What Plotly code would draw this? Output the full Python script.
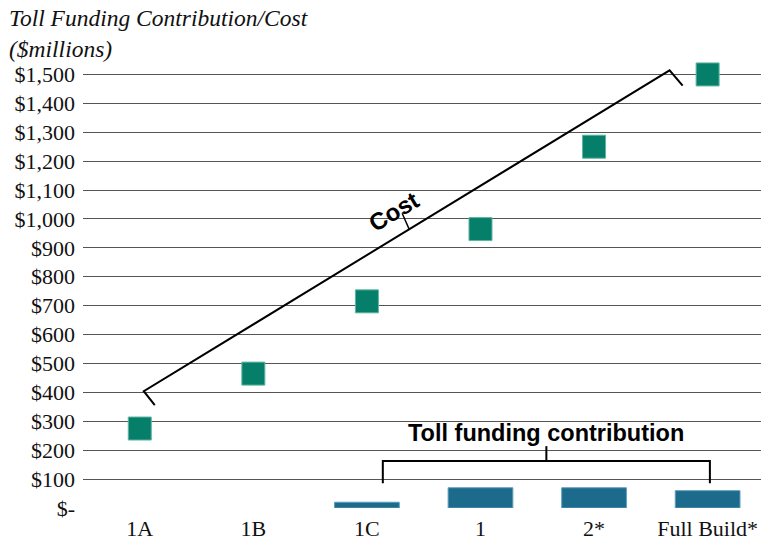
import plotly.graph_objects as go

categories = ["1A", "1B", "1C", "1", "2*", "Full Build*"]
cost = [275, 465, 715, 965, 1250, 1500]
toll_contribution = [None, None, 20, 70, 70, 60]
y_tick_values = list(range(0, 1600, 100))
y_tick_labels = ["$-"] + [f"${v:,}" for v in range(100, 1600, 100)]

x_idx = list(range(len(categories)))

SERIF = "Liberation Serif, Times New Roman, serif"
SANS = "Liberation Sans, Arial, sans-serif"

fig = go.Figure()
fig.add_trace(go.Bar(
    x=x_idx, y=toll_contribution, width=0.57,
    marker=dict(color="#1c6a8c", line=dict(color="#5f9fba", width=1)),
    name="Toll funding contribution",
))
fig.add_trace(go.Scatter(
    x=x_idx, y=cost, mode="markers",
    marker=dict(symbol="square", size=23, color="#067f6a",
                line=dict(color="#5fb5a2", width=1)),
    cliponaxis=False, name="Cost",
))

# Cost bracket
fig.add_shape(type="path",
              path="M 0.132 356 L 0.035 404 L 4.665 1514 L 4.78 1461",
              line=dict(color="black", width=2), xref="x", yref="y")
fig.add_shape(type="line", x0=2.31, y0=1020, x1=2.375, y1=962,
              line=dict(color="black", width=1.5))
fig.add_annotation(x=2.236, y=1026, text="<b>Cost</b>", showarrow=False,
                   textangle=-31, font=dict(family=SANS, size=24, color="black"))

# Toll funding bracket
fig.add_shape(type="path",
              path="M 2.14 86 L 2.14 163 L 5.02 163 L 5.02 86",
              line=dict(color="black", width=2))
fig.add_shape(type="line", x0=3.58, y0=163, x1=3.58, y1=214,
              line=dict(color="black", width=2))
fig.add_annotation(x=3.58, y=260, text="<b>Toll funding contribution</b>",
                   showarrow=False, font=dict(family=SANS, size=23.5, color="black"))

# Title
fig.add_annotation(xref="paper", yref="paper", x=-0.112, y=1.128,
                   xanchor="left", yanchor="top", align="left",
                   text="<i>Toll Funding Contribution/Cost<br>($millions)</i>",
                   showarrow=False,
                   font=dict(family=SERIF, size=23.5, color="#111"))

fig.update_layout(
    width=761, height=544,
    margin=dict(l=83, r=0, t=60, b=36),
    paper_bgcolor="white", plot_bgcolor="white",
    showlegend=False,
    xaxis=dict(range=[-0.5, 5.47], tickvals=x_idx, ticktext=categories,
               showgrid=False, zeroline=False, showline=False, ticks="",
               ticklabelstandoff=5,
               tickfont=dict(family=SERIF, size=22, color="#111")),
    yaxis=dict(range=[0, 1550], tickvals=y_tick_values, ticktext=y_tick_labels,
               showgrid=True, gridcolor="#555", gridwidth=1,
               zeroline=False, showline=False, ticks="", ticklabelstandoff=7,
               tickfont=dict(family=SERIF, size=22, color="#111")),
)

fig.write_html("out.html", config={"displayModeBar": False},
               post_script="document.body.style.margin='0';document.body.style.overflow='hidden';")
